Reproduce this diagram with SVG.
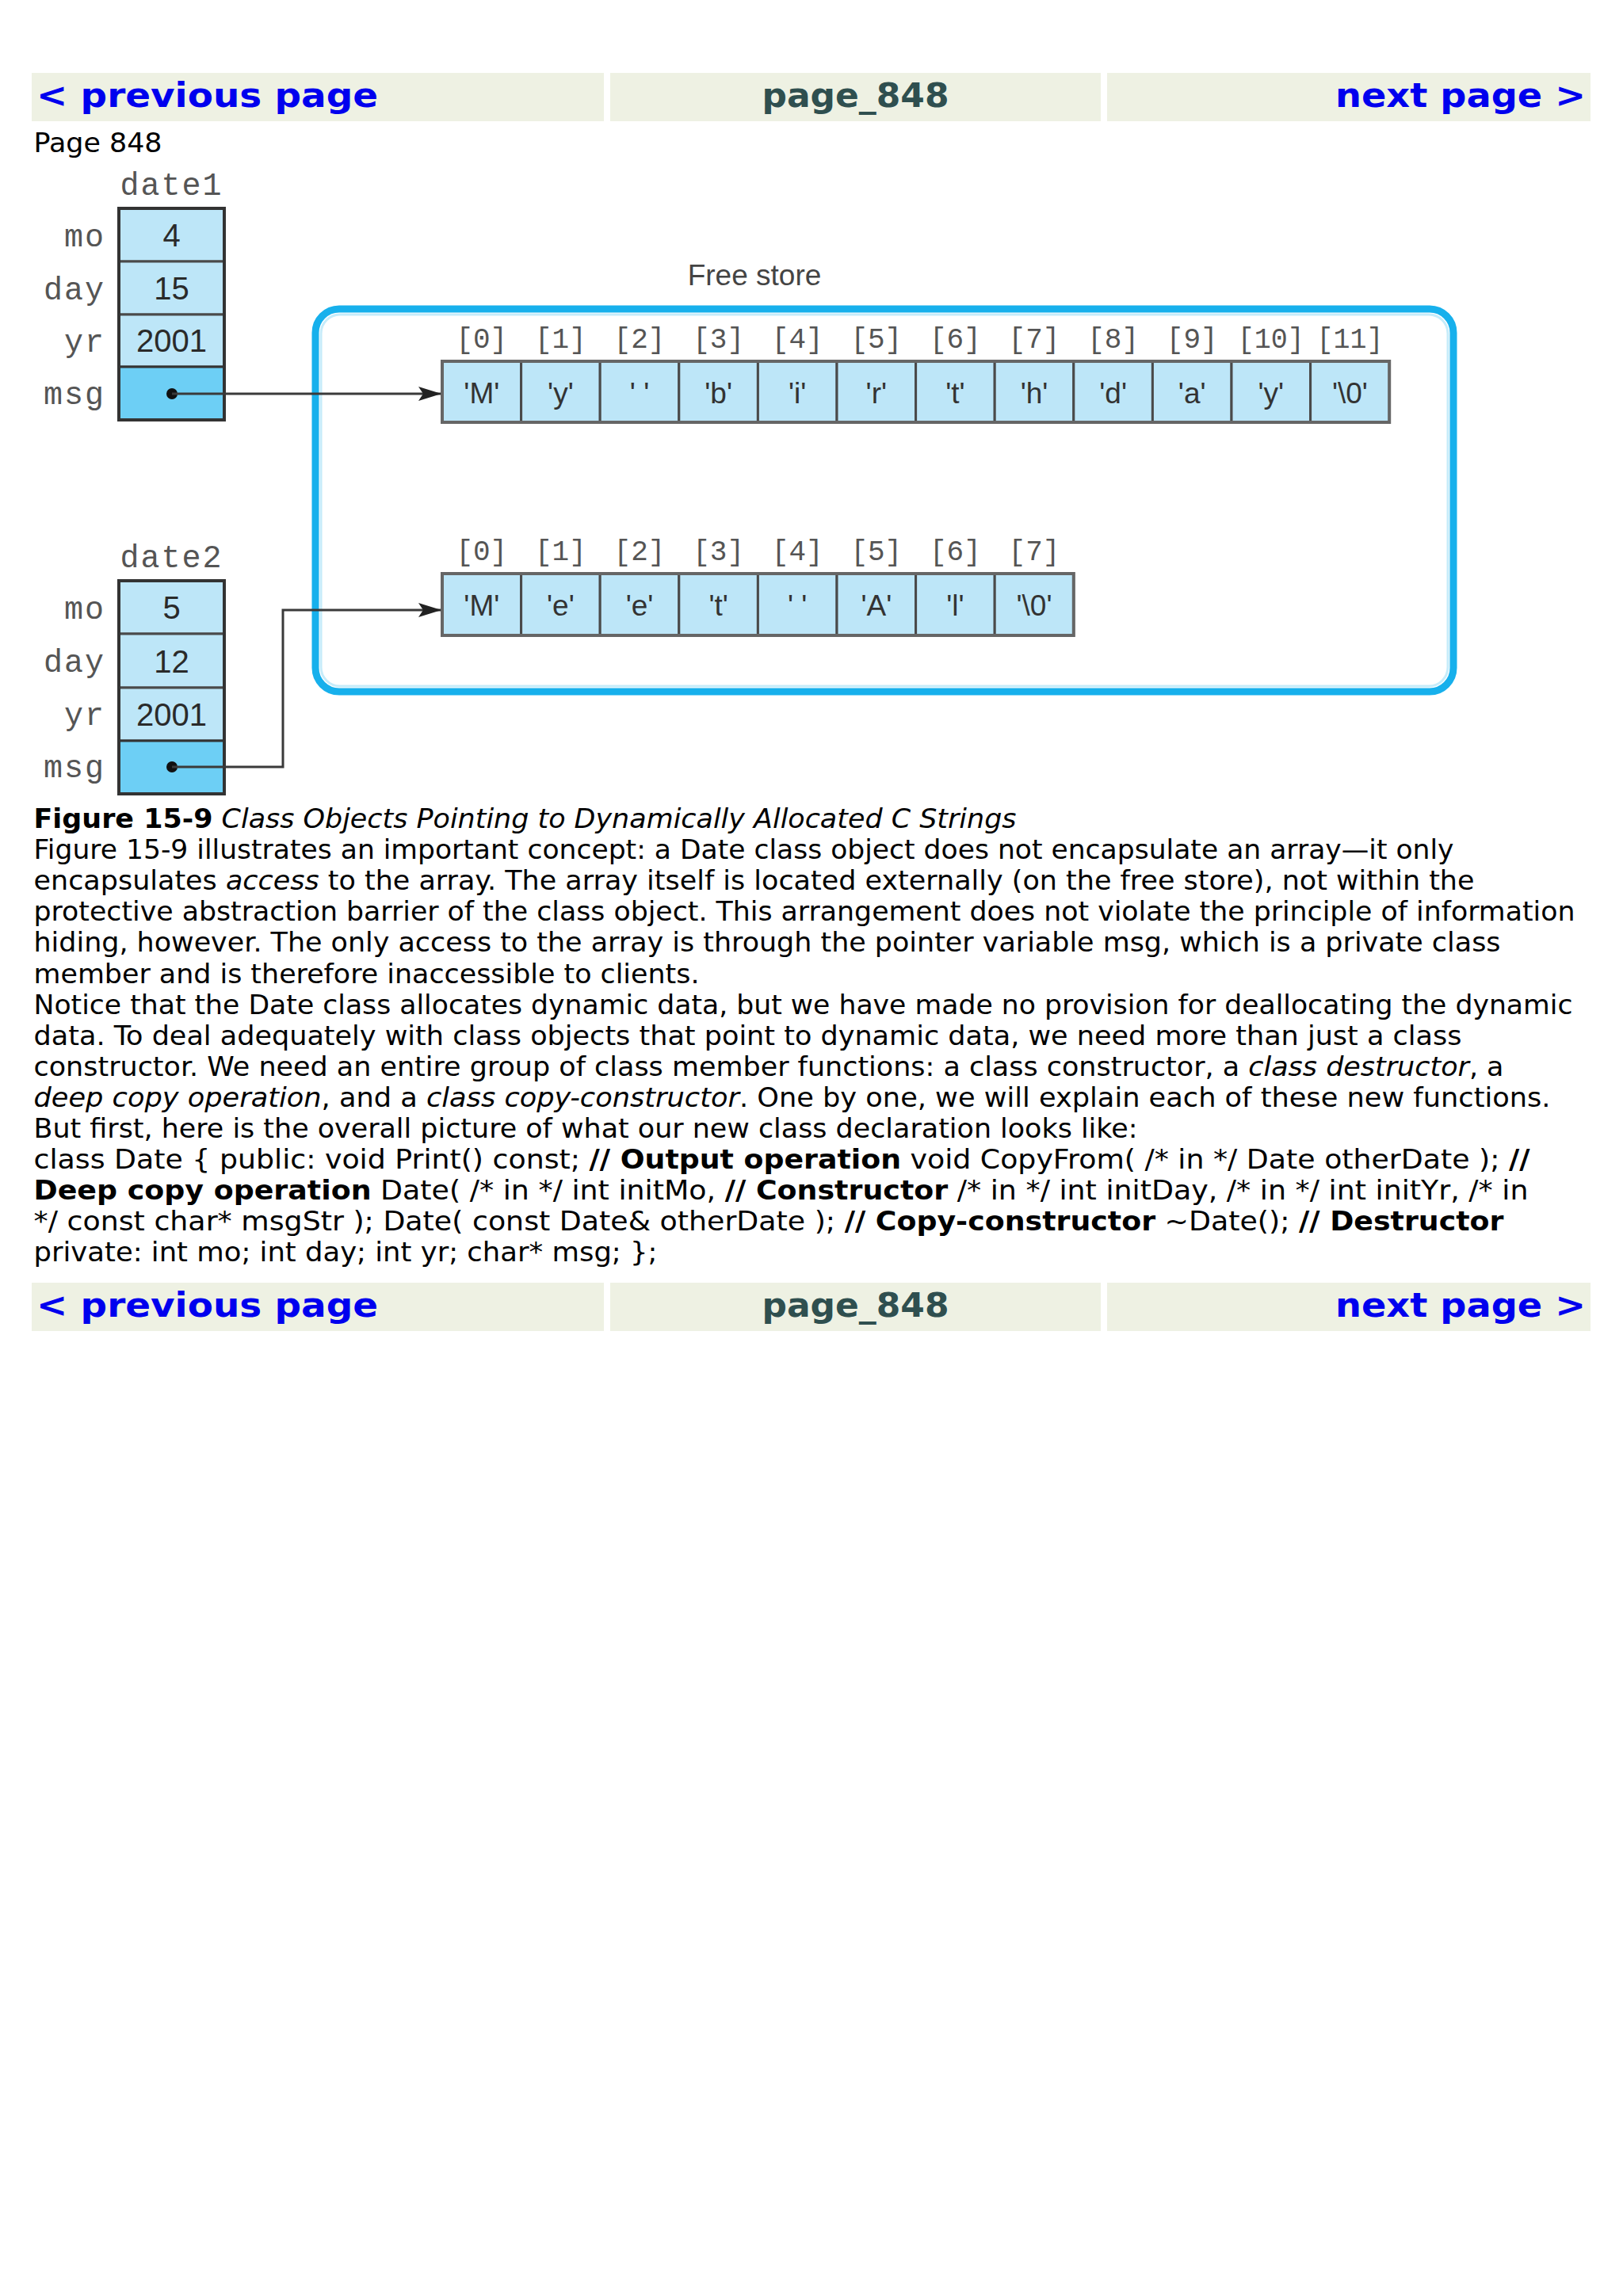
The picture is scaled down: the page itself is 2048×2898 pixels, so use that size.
<svg xmlns="http://www.w3.org/2000/svg" width="2048" height="2898" viewBox="0 0 2048 2898">
<style>
.bar{fill:#eef1e3}
.nav{font-family:"DejaVu Sans",Verdana,sans-serif;font-weight:bold;font-size:42px;fill:#0000ee}
.pg{font-family:"DejaVu Sans",Verdana,sans-serif;font-weight:bold;font-size:42px;fill:#2f4f4f}
.body{font-family:"DejaVu Sans",Verdana,sans-serif;font-size:34px;fill:#000}
.lbl{font-family:"Liberation Mono","Courier New",monospace;font-size:40px;fill:#555;letter-spacing:2px}
.val{font-family:"Liberation Sans",Arial,sans-serif;font-size:40px;fill:#2a2a2a;text-anchor:middle}
.cell{fill:#bde6f8;stroke:#4a4a4a;stroke-width:3}
.ptr{fill:#6dcff5;stroke:#333;stroke-width:3}
.box{fill:none;stroke:#333;stroke-width:4}
.ch{font-family:"Liberation Sans",Arial,sans-serif;font-size:37px;fill:#333;text-anchor:middle}
.idx{font-family:"Liberation Mono","Courier New",monospace;font-size:36px;fill:#555;text-anchor:middle}
.conn{fill:none;stroke:#3a3a3a;stroke-width:3}
</style>
<defs>
<marker id="arr" viewBox="0 0 29 18" markerWidth="29" markerHeight="18" refX="28" refY="9" orient="auto" markerUnits="userSpaceOnUse">
<path d="M0,0 L29,9 L0,18 L6,9 z" fill="#222"/>
</marker>
</defs>
<rect width="2048" height="2898" fill="#fff"/>

<g id="header">
<rect class="bar" x="40" y="92" width="722" height="61"/>
<rect class="bar" x="770" y="92" width="619" height="61"/>
<rect class="bar" x="1397" y="92" width="610" height="61"/>
<text class="nav" x="46" y="135" textLength="431" lengthAdjust="spacingAndGlyphs">&lt; previous page</text>
<text class="pg" x="1079.5" y="135" text-anchor="middle" textLength="236" lengthAdjust="spacingAndGlyphs">page_848</text>
<text class="nav" x="1685" y="135" textLength="316" lengthAdjust="spacingAndGlyphs">next page &gt;</text>
</g>

<text class="body" x="42.5" y="192" textLength="162" lengthAdjust="spacingAndGlyphs">Page 848</text>

<g id="freestore">
<rect x="398" y="390" width="1436" height="483" rx="30" fill="#ffffff" stroke="#17b0ec" stroke-width="9"/>
<rect x="405" y="397" width="1422" height="469" rx="24" fill="none" stroke="#c6ecfa" stroke-width="3"/>
<text x="952" y="360" text-anchor="middle" font-family="Liberation Sans, Arial, sans-serif" font-size="37" fill="#444">Free store</text>
</g>

<g id="date1">
<text class="lbl" x="216.5" y="246" text-anchor="middle">date1</text>
<rect class="cell" x="150" y="263" width="133" height="67"/>
<rect class="cell" x="150" y="330" width="133" height="67"/>
<rect class="cell" x="150" y="397" width="133" height="66"/>
<rect class="ptr" x="150" y="463" width="133" height="67"/>
<rect class="box" x="150" y="263" width="133" height="267"/>
<text class="lbl" x="133" y="311" text-anchor="end">mo</text>
<text class="lbl" x="133" y="378" text-anchor="end">day</text>
<text class="lbl" x="133" y="444" text-anchor="end">yr</text>
<text class="lbl" x="133" y="510" text-anchor="end">msg</text>
<text class="val" x="216.5" y="311">4</text>
<text class="val" x="216.5" y="378">15</text>
<text class="val" x="216.5" y="444">2001</text>
<circle cx="217" cy="497" r="7" fill="#111"/>
</g>

<g id="date2">
<text class="lbl" x="216.5" y="716" text-anchor="middle">date2</text>
<rect class="cell" x="150" y="733" width="133" height="67"/>
<rect class="cell" x="150" y="800" width="133" height="68"/>
<rect class="cell" x="150" y="868" width="133" height="67"/>
<rect class="ptr" x="150" y="935" width="133" height="67"/>
<rect class="box" x="150" y="733" width="133" height="269"/>
<text class="lbl" x="133" y="781" text-anchor="end">mo</text>
<text class="lbl" x="133" y="848" text-anchor="end">day</text>
<text class="lbl" x="133" y="915" text-anchor="end">yr</text>
<text class="lbl" x="133" y="981" text-anchor="end">msg</text>
<text class="val" x="216.5" y="781">5</text>
<text class="val" x="216.5" y="849">12</text>
<text class="val" x="216.5" y="916">2001</text>
<circle cx="217" cy="968" r="7" fill="#111"/>
</g>

<g id="array1">
<rect class="cell" x="558" y="456" width="99.6" height="77"/>
<rect class="cell" x="657.6" y="456" width="99.6" height="77"/>
<rect class="cell" x="757.2" y="456" width="99.6" height="77"/>
<rect class="cell" x="856.8" y="456" width="99.6" height="77"/>
<rect class="cell" x="956.4" y="456" width="99.6" height="77"/>
<rect class="cell" x="1056" y="456" width="99.6" height="77"/>
<rect class="cell" x="1155.6" y="456" width="99.6" height="77"/>
<rect class="cell" x="1255.2" y="456" width="99.6" height="77"/>
<rect class="cell" x="1354.8" y="456" width="99.6" height="77"/>
<rect class="cell" x="1454.4" y="456" width="99.6" height="77"/>
<rect class="cell" x="1554" y="456" width="99.6" height="77"/>
<rect class="cell" x="1653.6" y="456" width="99.6" height="77"/>
<rect x="558" y="456" width="1195.2" height="77" fill="none" stroke="#666" stroke-width="4"/>
<text class="idx" x="607.8" y="439">[0]</text>
<text class="idx" x="707.4" y="439">[1]</text>
<text class="idx" x="807" y="439">[2]</text>
<text class="idx" x="906.6" y="439">[3]</text>
<text class="idx" x="1006.2" y="439">[4]</text>
<text class="idx" x="1105.8" y="439">[5]</text>
<text class="idx" x="1205.4" y="439">[6]</text>
<text class="idx" x="1305" y="439">[7]</text>
<text class="idx" x="1404.6" y="439">[8]</text>
<text class="idx" x="1504.2" y="439">[9]</text>
<text class="idx" x="1603.8" y="439" textLength="84" lengthAdjust="spacingAndGlyphs">[10]</text>
<text class="idx" x="1703.4" y="439" textLength="84" lengthAdjust="spacingAndGlyphs">[11]</text>
<text class="ch" x="607.8" y="509">'M'</text>
<text class="ch" x="707.4" y="509">'y'</text>
<text class="ch" x="807" y="509">' '</text>
<text class="ch" x="906.6" y="509">'b'</text>
<text class="ch" x="1006.2" y="509">'i'</text>
<text class="ch" x="1105.8" y="509">'r'</text>
<text class="ch" x="1205.4" y="509">'t'</text>
<text class="ch" x="1305" y="509">'h'</text>
<text class="ch" x="1404.6" y="509">'d'</text>
<text class="ch" x="1504.2" y="509">'a'</text>
<text class="ch" x="1603.8" y="509">'y'</text>
<text class="ch" x="1703.4" y="509">'\0'</text>
</g>

<g id="array2">
<rect class="cell" x="558" y="724" width="99.6" height="78"/>
<rect class="cell" x="657.6" y="724" width="99.6" height="78"/>
<rect class="cell" x="757.2" y="724" width="99.6" height="78"/>
<rect class="cell" x="856.8" y="724" width="99.6" height="78"/>
<rect class="cell" x="956.4" y="724" width="99.6" height="78"/>
<rect class="cell" x="1056" y="724" width="99.6" height="78"/>
<rect class="cell" x="1155.6" y="724" width="99.6" height="78"/>
<rect class="cell" x="1255.2" y="724" width="99.6" height="78"/>
<rect x="558" y="724" width="796.8" height="78" fill="none" stroke="#666" stroke-width="4"/>
<text class="idx" x="607.8" y="707">[0]</text>
<text class="idx" x="707.4" y="707">[1]</text>
<text class="idx" x="807" y="707">[2]</text>
<text class="idx" x="906.6" y="707">[3]</text>
<text class="idx" x="1006.2" y="707">[4]</text>
<text class="idx" x="1105.8" y="707">[5]</text>
<text class="idx" x="1205.4" y="707">[6]</text>
<text class="idx" x="1305" y="707">[7]</text>
<text class="ch" x="607.8" y="777">'M'</text>
<text class="ch" x="707.4" y="777">'e'</text>
<text class="ch" x="807" y="777">'e'</text>
<text class="ch" x="906.6" y="777">'t'</text>
<text class="ch" x="1006.2" y="777">' '</text>
<text class="ch" x="1105.8" y="777">'A'</text>
<text class="ch" x="1205.4" y="777">'l'</text>
<text class="ch" x="1305" y="777">'\0'</text>
</g>

<g id="connectors">
<path class="conn" d="M217,497 H556" marker-end="url(#arr)"/>
<path class="conn" d="M217,968 H357 V770 H556" marker-end="url(#arr)"/>
</g>

<g id="text">
<text class="body" x="42.5" y="1045" textLength="1240" lengthAdjust="spacingAndGlyphs"><tspan font-weight="bold">Figure 15-9</tspan> <tspan font-style="italic">Class Objects Pointing to Dynamically Allocated C Strings</tspan></text>
<text class="body" x="42.5" y="1084.1" textLength="1792" lengthAdjust="spacingAndGlyphs">Figure 15-9 illustrates an important concept: a Date class object does not encapsulate an array—it only</text>
<text class="body" x="42.5" y="1123.2" textLength="1818" lengthAdjust="spacingAndGlyphs">encapsulates <tspan font-style="italic">access</tspan> to the array. The array itself is located externally (on the free store), not within the</text>
<text class="body" x="42.5" y="1162.3" textLength="1945" lengthAdjust="spacingAndGlyphs">protective abstraction barrier of the class object. This arrangement does not violate the principle of information</text>
<text class="body" x="42.5" y="1201.4" textLength="1851" lengthAdjust="spacingAndGlyphs">hiding, however. The only access to the array is through the pointer variable msg, which is a private class</text>
<text class="body" x="42.5" y="1240.5" textLength="840" lengthAdjust="spacingAndGlyphs">member and is therefore inaccessible to clients.</text>
<text class="body" x="42.5" y="1279.6" textLength="1942" lengthAdjust="spacingAndGlyphs">Notice that the Date class allocates dynamic data, but we have made no provision for deallocating the dynamic</text>
<text class="body" x="42.5" y="1318.7" textLength="1802" lengthAdjust="spacingAndGlyphs">data. To deal adequately with class objects that point to dynamic data, we need more than just a class</text>
<text class="body" x="42.5" y="1357.8" textLength="1855" lengthAdjust="spacingAndGlyphs">constructor. We need an entire group of class member functions: a class constructor, a <tspan font-style="italic">class destructor</tspan>, a</text>
<text class="body" x="42.5" y="1396.9" textLength="1914" lengthAdjust="spacingAndGlyphs"><tspan font-style="italic">deep copy operation</tspan>, and a <tspan font-style="italic">class copy-constructor</tspan>. One by one, we will explain each of these new functions.</text>
<text class="body" x="42.5" y="1436" textLength="1393" lengthAdjust="spacingAndGlyphs">But first, here is the overall picture of what our new class declaration looks like:</text>
<text class="body" x="42.5" y="1475.1" textLength="1888" lengthAdjust="spacingAndGlyphs">class Date { public: void Print() const; <tspan font-weight="bold">// Output operation</tspan> void CopyFrom( /* in */ Date otherDate ); <tspan font-weight="bold">//</tspan></text>
<text class="body" x="42.5" y="1514.2" textLength="1886" lengthAdjust="spacingAndGlyphs"><tspan font-weight="bold">Deep copy operation</tspan> Date( /* in */ int initMo, <tspan font-weight="bold">// Constructor</tspan> /* in */ int initDay, /* in */ int initYr, /* in</text>
<text class="body" x="42.5" y="1553.3" textLength="1855" lengthAdjust="spacingAndGlyphs">*/ const char* msgStr ); Date( const Date&amp; otherDate ); <tspan font-weight="bold">// Copy-constructor</tspan> ~Date(); <tspan font-weight="bold">// Destructor</tspan></text>
<text class="body" x="42.5" y="1592.4" textLength="787" lengthAdjust="spacingAndGlyphs">private: int mo; int day; int yr; char* msg; };</text>
</g>

<g id="footer">
<rect class="bar" x="40" y="1619" width="722" height="61"/>
<rect class="bar" x="770" y="1619" width="619" height="61"/>
<rect class="bar" x="1397" y="1619" width="610" height="61"/>
<text class="nav" x="46" y="1662" textLength="431" lengthAdjust="spacingAndGlyphs">&lt; previous page</text>
<text class="pg" x="1079.5" y="1662" text-anchor="middle" textLength="236" lengthAdjust="spacingAndGlyphs">page_848</text>
<text class="nav" x="1685" y="1662" textLength="316" lengthAdjust="spacingAndGlyphs">next page &gt;</text>
</g>
</svg>
